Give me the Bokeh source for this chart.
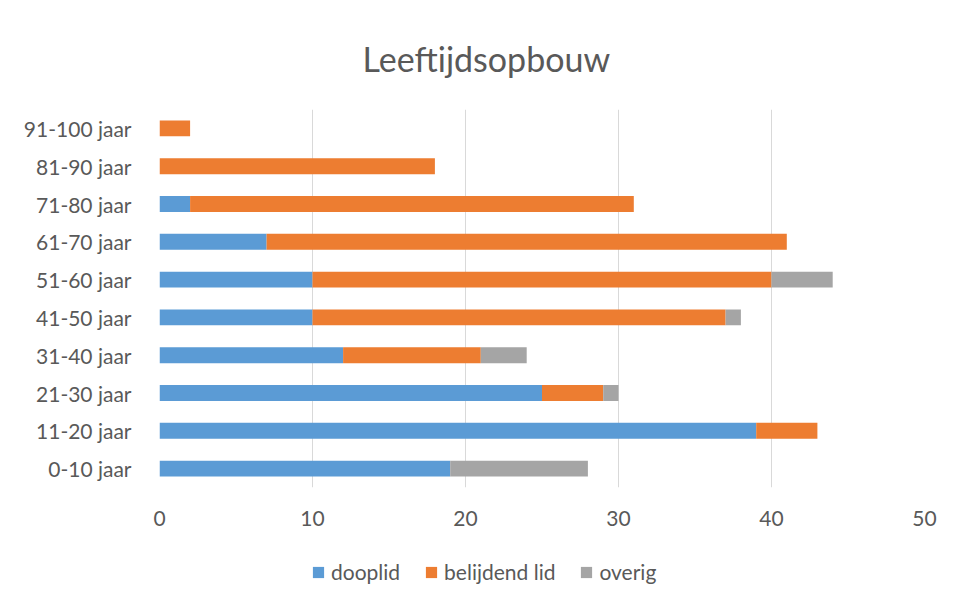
from bokeh.plotting import figure
from bokeh.layouts import column
from bokeh.models import Legend, LegendItem, Range1d, FactorRange, SingleIntervalTicker
from bokeh.embed import file_html
from bokeh.resources import INLINE

categories = ["0-10 jaar", "11-20 jaar", "21-30 jaar", "31-40 jaar", "41-50 jaar",
              "51-60 jaar", "61-70 jaar", "71-80 jaar", "81-90 jaar", "91-100 jaar"]
dooplid = [19, 39, 25, 12, 10, 10, 7, 2, 0, 0]
belijdend = [0, 4, 4, 9, 27, 30, 34, 29, 18, 2]
overig = [9, 0, 1, 3, 1, 4, 0, 0, 0, 0]
series = ["dooplid", "belijdend lid", "overig"]
colors = ["#5B9BD5", "#ED7D31", "#A5A5A5"]

FONT = "Lato"

p = figure(width=945, height=548, output_backend="svg", toolbar_location=None,
           y_range=FactorRange(*categories, range_padding=0), x_range=Range1d(0, 50),
           min_border_left=159, min_border_right=21, min_border_top=109, min_border_bottom=61)

data = dict(cat=categories, dooplid=dooplid)
data["belijdend lid"] = belijdend
data["overig"] = overig
renderers = p.hbar_stack(series, y="cat", height=0.42, color=colors, source=data, line_width=0)

p.title.text = "Leeftijdsopbouw"
p.title.align = "left"
p.title.text_font = FONT
p.title.text_font_style = "normal"
p.title.text_font_size = "34px"
p.title.text_color = "#595959"
p.title.offset = 203
p.title.standoff = 61

p.outline_line_color = None
p.border_fill_color = "white"
p.background_fill_color = "white"

p.xaxis.ticker = SingleIntervalTicker(interval=10)
p.xaxis.axis_line_color = None
p.xaxis.major_tick_line_color = None
p.xaxis.minor_tick_line_color = None
p.xaxis.major_label_text_font = FONT
p.xaxis.major_label_text_font_size = "21px"
p.xaxis.major_label_text_color = "#595959"
p.xaxis.major_label_standoff = 17

p.yaxis.axis_line_color = None
p.yaxis.major_tick_line_color = None
p.yaxis.major_label_text_font = FONT
p.yaxis.major_label_text_font_size = "21px"
p.yaxis.major_label_text_color = "#595959"
p.yaxis.major_label_standoff = 22

p.xgrid.grid_line_color = "#D9D9D9"
p.xgrid.grid_line_width = 1
p.ygrid.grid_line_color = None

# legend in its own strip below the chart
lg = figure(width=945, height=50, output_backend="svg", toolbar_location=None,
            x_range=Range1d(0, 1), y_range=Range1d(0, 1),
            min_border_left=0, min_border_right=0, min_border_top=0, min_border_bottom=0)
lg.axis.visible = False
lg.grid.visible = False
lg.outline_line_color = None
dummies = [lg.vbar(x=[0.5], top=[0.5], bottom=[0.5], width=0.1, color=c, line_width=0)
           for c in colors]
items = [LegendItem(label=s, renderers=[r]) for s, r in zip(series, dummies)]
legend = Legend(items=items, orientation="horizontal", location=(152, 14),
                label_text_font=FONT, label_text_font_size="21px", label_text_color="#595959",
                glyph_width=14, glyph_height=14, spacing=24, label_standoff=6,
                border_line_color=None, background_fill_alpha=0, padding=0, margin=0)
lg.add_layout(legend, "center")

layout = column(p, lg, spacing=0)
open("out.html", "w").write(file_html(layout, INLINE))
